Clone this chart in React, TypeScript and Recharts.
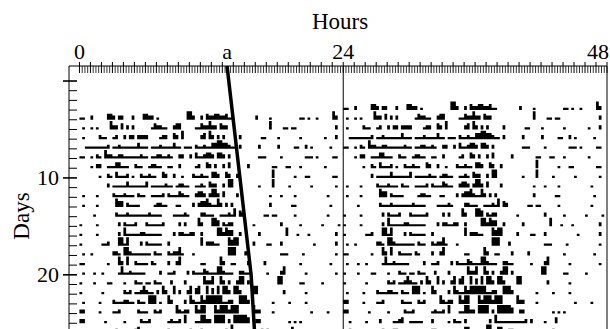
import React from 'react';
import {
  ComposedChart,
  Area,
  Line,
  XAxis,
  YAxis,
  ReferenceLine,
} from 'recharts';

// axis text
const HOURS_TITLE = 'Hours';
const DAYS_TITLE = 'Days';
const HOUR_LABELS = [0, 24, 48];
const DAY_LABELS = [10, 20];
const DAY_MAJOR = [0, 10, 20];
const ONSET_LABEL = 'a';

// the onset line (hour, day)
const ONSET_HOURS = [13.43, 15.62, 16.1];
const ONSET_DAYS = [-1.55, 20, 29.1];

// activity per day: [start hour, end hour, level 1..4]
const day04 = [[0,0.5,1],[0.9,1.25,2],[2.5,2.9,3],[2.9,3.25,2],[3.5,4,2],[4.85,5.1,2],[5.75,6.25,3],[6.25,6.75,2],[7,7.25,1],[9.8,10.3,4],[10.3,10.5,2],[10.9,11.2,2],[11.5,11.8,3],[11.8,12.25,2],[12.25,12.75,3],[12.75,13.25,2],[13.25,13.5,3],[13.5,14,1],[16,16.25,2],[17.25,17.5,1],[20,20.5,1],[20.75,21,1],[21.4,21.8,1],[23,23.3,4],[23.3,23.5,2]];
const day05 = [[0.25,0.6,1],[1,1.25,1],[1.5,1.75,1],[2.75,3.1,4],[3.1,3.5,2],[3.75,4.1,3],[4.25,4.6,2],[4.75,5.1,2],[6.4,6.75,1],[6.75,7.1,3],[7.1,7.5,2],[7.6,7.9,1],[8.5,8.8,2],[8.8,9.2,3],[10.6,11,1],[11,11.25,3],[11.25,11.75,2],[11.75,12.1,4],[12.1,12.5,2],[12.75,13.1,3],[13.1,13.5,2],[17.2,17.5,4],[18.5,19,1],[19.25,19.75,1],[23.3,23.6,2]];
const day06 = [[0.3,0.5,1],[1.8,2,2],[2.1,2.4,1],[3,3.25,1],[3.25,3.5,2],[4.1,4.35,2],[4.6,4.9,2],[5.2,5.5,2],[5.6,5.9,2],[6,6.25,2],[7.3,7.6,1],[7.6,7.9,2],[8.5,8.75,3],[8.75,9.1,2],[9.25,9.5,4],[10.9,11.2,2],[11.3,11.6,3],[11.75,12,4],[12,12.3,2],[12.5,12.75,2],[13,13.25,2],[14.5,14.75,2],[16.4,16.9,1],[18,18.25,1],[20,20.25,1],[22.2,22.5,1],[23.2,23.6,2]];
const day07 = [[0.6,2.5,1],[2.5,2.75,2],[3,3.5,1],[3.5,3.75,2],[3.75,5.25,1],[5.25,5.6,3],[5.6,6.2,1],[6.5,7.25,1],[7.25,7.5,2],[7.5,8.4,1],[8.4,8.75,3],[8.75,9.25,1],[9.5,10.25,1],[10.5,10.75,2],[10.75,11.25,1],[11.25,11.5,2],[11.5,12,1],[12,12.5,3],[12.5,13,4],[13,13.5,3],[13.5,13.75,2],[13.75,14.25,1],[14.5,14.75,2],[16.3,16.5,2],[17.9,18.2,2],[19.6,20.1,1],[20.5,20.75,2],[21,21.25,1],[22.7,23,1]];
const day08 = [[0,0.6,1],[0.9,1.2,1],[1.4,1.7,2],[1.7,2.1,1],[2.3,2.6,4],[2.6,2.9,2],[2.9,3.6,1],[3.6,3.9,2],[3.9,5.5,1],[5.5,5.75,2],[5.75,6.25,1],[6.6,7.1,1],[7.1,7.4,2],[7.4,8,1],[8,8.25,2],[8.25,8.6,1],[9.1,9.4,2],[10,10.25,2],[10.4,10.7,3],[10.7,11.2,1],[11.2,11.5,2],[11.6,12,3],[12,12.25,2],[12.6,12.9,3],[12.9,13.2,2],[13.5,13.75,2],[16.2,16.9,1],[18.3,18.5,1],[20.5,21.2,1],[21.4,21.6,1],[23,23.5,1]];
const day09 = [[1,1.25,1],[1.6,1.9,2],[2.6,3.2,1],[3.2,3.75,3],[3.75,4.5,1],[5,5.25,2],[5.25,5.75,1],[6.25,6.6,1],[6.6,6.9,2],[6.9,7.5,1],[8,8.4,1],[9,9.25,2],[10.4,10.8,1],[10.8,11.1,2],[11.4,11.7,3],[11.7,12,2],[12.2,12.5,2],[13,13.25,2],[13.5,13.75,3],[15.2,15.5,2],[17.6,18,1],[18.7,19.2,1],[20,20.25,1],[22.3,22.5,1]];
const day10 = [[1.8,2,1],[2.5,2.75,2],[2.75,3.1,1],[3.2,3.5,3],[3.5,4.25,1],[4.25,4.5,2],[4.75,5,1],[5.5,5.75,2],[5.75,6.25,1],[6.25,6.5,2],[6.5,7,1],[7.5,7.75,3],[7.75,8,2],[8.5,8.75,2],[9.25,9.6,1],[10.25,10.5,2],[10.5,11,1],[11,11.25,2],[11.25,11.75,1],[12,12.5,3],[12.5,12.75,2],[13.25,13.5,3],[13.5,13.75,2],[14.25,14.5,2],[17.4,17.7,4],[19.5,19.75,1],[20.6,20.9,1],[23,23.5,1]];
const day11 = [[2.5,2.75,2],[3,4.25,1],[4.25,4.6,3],[4.6,6,1],[6,6.3,3],[6.5,7.75,1],[7.75,8.1,2],[8.1,8.5,1],[8.75,9.1,1],[9.1,9.4,2],[9.6,10,1],[10.5,11,1],[11,11.3,2],[11.3,11.6,1],[11.75,12.1,3],[12.1,12.4,2],[13,13.25,2],[13.6,14,4],[16.2,16.6,1],[17.4,17.75,4],[19,19.25,1],[20.9,21.1,1],[23.2,23.5,1]];
const day12 = [[0.3,0.5,1],[1.5,1.75,1],[2.9,3.2,2],[3.2,4,1],[4,4.25,2],[4.25,5,1],[5.3,5.5,2],[5.5,6,1],[6.5,7.5,1],[7.5,7.75,2],[8.1,8.35,2],[8.35,9,1],[9,9.3,3],[9.3,9.6,2],[9.6,10,1],[10.5,10.75,2],[10.75,11.25,3],[11.25,11.5,2],[11.75,12,2],[12,12.5,4],[12.5,12.75,2],[13,13.25,3],[14.25,14.5,2],[17.3,17.6,1],[18.3,18.5,1],[19.5,19.75,1],[22.5,22.75,1]];
const day13 = [[0.25,0.5,1],[1.5,1.75,1],[3.2,3.6,4],[3.6,3.9,3],[4.3,4.6,2],[4.6,5.5,1],[6.7,7.1,1],[7.1,7.4,2],[7.4,8,1],[8.8,9.2,1],[10.3,10.5,2],[10.75,11,2],[11,11.4,3],[11.4,11.75,4],[11.75,12.1,2],[12.1,12.5,1],[12.5,12.8,4],[12.8,13.1,2],[13.25,13.5,2],[13.75,14,2],[17.3,17.6,2],[19.3,19.75,1],[22.7,23.1,1]];
const day14 = [[1.25,1.5,1],[3.25,3.5,2],[3.5,4.2,1],[4.2,4.5,2],[4.5,6.25,1],[6.25,6.5,2],[6.5,7.5,1],[8.4,9.5,1],[9.5,9.75,2],[9.75,10,1],[11,11.5,2],[11.5,12.2,1],[12.8,13.4,1],[13.4,13.6,2],[13.6,13.9,1],[13.9,14.25,4],[14.5,14.75,3],[14.75,15,2],[16.75,17.25,1],[17.5,17.9,1],[19.5,19.75,1],[22.6,22.8,1]];
const day15 = [[0,0.2,1],[1.5,1.75,1],[3.5,3.75,2],[4,4.25,2],[4.25,5,1],[5,5.25,2],[5.9,6.2,2],[6.2,7.5,1],[7.5,7.75,2],[9.1,9.35,2],[9.6,9.85,2],[10.8,11.1,4],[11.1,11.3,2],[12.1,12.5,4],[12.5,12.75,3],[12.9,13.1,2],[13.1,13.5,1],[13.6,13.9,2],[15.8,16,1],[18.2,18.5,2],[20,20.25,1],[22,22.2,1],[23.5,23.75,1]];
const day16 = [[0,0.25,1],[1.6,1.8,1],[3.6,3.85,2],[4,4.35,4],[4.35,5.6,1],[5.6,5.9,2],[5.9,7.4,1],[8.5,8.75,2],[9.1,9.4,2],[9.4,10.1,1],[10.1,10.4,2],[10.9,11.1,2],[12.5,12.9,4],[12.9,13.2,2],[13.2,13.5,4],[13.5,13.9,3],[14.4,14.6,2],[16.3,16.5,2],[18.8,19.1,4],[19.7,19.9,1],[20.8,21,1],[23.2,23.4,2]];
const day17 = [[0,0.25,1],[2.1,2.5,1],[2.5,2.75,2],[3.6,3.9,4],[3.9,4.3,1],[4.3,4.6,4],[5.5,5.75,2],[6.1,6.35,2],[6.35,7.5,1],[7.9,8.1,2],[10.9,11.25,4],[11.6,12.25,2],[12.25,12.75,1],[13.4,13.75,4],[13.75,14,3],[14,14.4,4],[15.8,16,2],[17.1,17.5,1],[18.3,18.5,2],[21.2,21.4,1],[23.3,23.5,2]];
const day18 = [[0.2,0.4,1],[1,1.25,1],[3.1,3.4,2],[3.4,3.7,1],[4.1,4.4,4],[4.4,4.7,2],[4.7,6.4,1],[6.8,7.1,2],[7.1,7.5,1],[8,8.25,2],[8.25,8.5,1],[8.6,8.9,2],[8.9,9.25,4],[9.25,9.6,1],[10.3,10.6,1],[13.6,14.25,4],[14.9,15.2,2],[18.3,18.9,1],[20.3,20.5,1],[23.3,23.5,1]];
const day19 = [[0,0.6,1],[2.5,2.75,1],[3.5,3.8,4],[3.8,4.1,2],[4.2,4.5,4],[4.9,5.1,2],[5.1,6.2,1],[6.5,6.75,2],[6.75,7,1],[7.9,8.1,2],[8.8,9,2],[9,9.3,4],[11,11.5,1],[12.8,13.1,4],[13.1,13.3,2],[13.8,14.3,1],[15.2,15.5,2],[16.7,17,2],[20.1,20.3,1],[22.8,23.1,1]];
const day20 = [[0.25,0.5,1],[1.2,1.4,1],[2,2.25,1],[3.4,3.75,1],[3.75,4.1,4],[4.1,4.5,1],[4.5,4.75,2],[4.75,6.1,1],[7.3,7.5,2],[8,8.5,1],[8.5,8.75,2],[9.75,10,2],[10.25,10.5,2],[10.5,11.25,1],[11.25,11.5,3],[11.5,11.75,2],[11.75,12.6,1],[12.6,13,4],[13,13.25,2],[13.25,14.1,1],[14.6,14.9,2],[14.9,15.5,1],[17,17.25,1],[18.3,18.5,2],[18.5,18.75,4],[20.5,20.75,1],[23.2,23.5,1]];
const day21 = [[0,0.25,1],[1.25,1.5,1],[2.6,2.9,1],[4,4.3,1],[5.1,5.35,2],[5.35,5.75,1],[6.1,6.6,1],[6.75,7,2],[7,7.5,1],[8.3,8.5,2],[9.4,9.6,2],[11.25,11.6,4],[11.6,11.9,2],[11.9,12.2,4],[12.8,13.1,4],[13.1,13.3,2],[13.5,13.75,2],[14.2,14.5,2],[14.5,15.1,4],[15.2,15.4,2],[18,18.4,4],[20.1,20.4,1],[22,22.25,1]];
const day22 = [[0.1,0.3,1],[2,2.2,1],[3.9,4.1,2],[4.1,4.5,1],[4.5,4.75,2],[4.9,5.4,1],[5.5,5.75,2],[5.75,6,4],[6,6.3,2],[6.3,6.75,1],[7,7.25,2],[7.5,7.75,4],[7.75,8,2],[8.5,8.75,4],[9,9.25,2],[9.7,9.9,2],[10,10.25,4],[10.4,10.6,3],[10.75,11.1,4],[11.4,11.75,4],[12,12.25,3],[12.5,12.75,4],[13,13.5,4],[13.5,13.75,2],[14.1,14.5,4],[14.5,14.75,2],[15.8,16.25,4],[18.4,18.6,2],[20.5,20.75,1]];
const day23 = [[0.25,0.5,1],[1.8,2.1,1],[3.1,3.3,2],[3.3,4.1,1],[4.1,4.4,2],[4.4,5,1],[5.3,5.5,2],[5.5,6,1],[6.2,6.5,4],[6.6,6.9,4],[7.2,7.6,1],[8,8.3,4],[8.3,8.6,2],[9.4,9.6,2],[9.9,10.1,4],[10.1,10.4,2],[10.6,11,1],[11,11.3,4],[11.3,11.5,2],[11.6,12.4,4],[12.6,13,4],[13,13.4,1],[13.6,13.9,2],[14.6,15.2,4],[15.2,15.4,2],[17.5,17.7,1],[19,19.2,1],[20.6,20.8,1]];
const day24 = [[0,0.4,2],[1.8,2.1,1],[3,3.4,1],[3.4,3.6,2],[5.3,5.6,2],[5.6,6.3,1],[6.75,7,2],[7,7.3,1],[7.3,7.6,2],[8.8,9.1,4],[9.1,9.3,2],[9.3,9.6,1],[9.6,9.9,2],[10.4,10.7,4],[10.7,11,2],[11,11.6,4],[12.2,12.5,4],[12.5,12.8,2],[12.8,13.5,4],[13.5,13.8,2],[13.8,14.6,4],[15.8,16.1,4],[16.1,16.4,2],[17.6,17.8,1],[21,21.2,1],[22.5,22.7,1]];
const day25 = [[0,0.4,2],[2.2,2.4,1],[4.1,4.3,1],[5.5,5.75,2],[5.75,6.25,1],[6.25,6.5,2],[7.9,8.3,1],[8.3,8.5,2],[8.5,8.9,1],[9,9.25,2],[9.5,9.75,4],[10.6,10.9,1],[10.9,11.6,4],[11.6,11.9,2],[12.3,13.25,4],[13.5,13.75,2],[14,15.25,4],[15.25,15.6,3],[15.9,16.1,2],[16.25,16.5,2],[18.9,19.1,1],[19.5,19.7,1],[20.1,20.3,1]];
const day26 = [[0.5,0.75,1],[2,2.25,1],[3.25,3.5,2],[4.5,5,1],[5,5.25,2],[5.3,5.6,3],[6.1,7.25,1],[8,8.25,2],[9.4,9.75,1],[9.9,10.1,2],[10.25,10.75,1],[11,11.25,2],[13.3,13.5,2],[13.75,14.1,4],[14.1,16.5,1],[16.5,16.75,2],[17,17.25,2],[18.2,18.6,1],[19.25,19.5,3]];
const day27 = [[0.5,0.75,2],[3.5,3.75,2],[4.5,5,2],[8,8.5,2],[11,11.5,3],[13,13.5,4],[14,14.5,3],[15,15.5,2],[19,19.25,2]];

const ACTIVITY_DAYS = [4, 5, 6, 7, 8, 9, 10, 11, 12, 13, 14, 15, 16, 17, 18, 19, 20, 21, 22, 23, 24, 25, 26, 27];
const ACTIVITY_RUNS = [day04, day05, day06, day07, day08, day09, day10, day11, day12, day13, day14, day15, day16, day17, day18, day19, day20, day21, day22, day23, day24, day25, day26, day27];

const BINS = 96; // quarter hours in a day
const LEVEL_HEIGHT = [0, 0.23, 0.43, 0.63, 0.88];

function toBins(runs: number[][]) {
  const bins = new Array(BINS).fill(0);
  for (const [s, e, lvl] of runs) {
    const a = Math.round(s * 4);
    const b = Math.max(Math.round(e * 4), a + 1);
    for (let k = a; k < b && k < BINS; k++) bins[k] = Math.max(bins[k], lvl);
  }
  return bins;
}

const binsByDay = new Map<number, number[]>();
ACTIVITY_DAYS.forEach((d, i) => binsByDay.set(d, toBins(ACTIVITY_RUNS[i])));

// double plot: row d shows day d, then day d+1
const ROWS: number[] = [];
for (let d = ACTIVITY_DAYS[0] - 1; d < ACTIVITY_DAYS[ACTIVITY_DAYS.length - 1]; d++) ROWS.push(d);

const tableData = Array.from({ length: 2 * BINS + 1 }, (_, k) => {
  const row: Record<string, number> = { h: k / 4 };
  for (const d of ROWS) {
    let lvl = 0;
    if (k < BINS) lvl = binsByDay.get(d)?.[k] ?? 0;
    else if (k < 2 * BINS) lvl = binsByDay.get(d + 1)?.[k - BINS] ?? 0;
    row[`r${d}`] = d - LEVEL_HEIGHT[lvl];
  }
  return row;
});

const onsetData = ONSET_HOURS.map((h, i) => ({ h, d: ONSET_DAYS[i] }));

const X_TICKS = [...Array.from({ length: 193 }, (_, i) => i / 4), ONSET_HOURS[0]];
const Y_TICKS = Array.from({ length: 30 }, (_, i) => i);

const FONT = '"Liberation Serif", "Times New Roman", serif';

function HourTick(props: any) {
  const { x, y, payload } = props;
  const v = payload.value;
  if (v === ONSET_HOURS[0]) {
    return (
      <text x={x} y={y - 7.5} textAnchor="middle" fontFamily={FONT} fontSize={22} fill="#000">
        {ONSET_LABEL}
      </text>
    );
  }
  const major = Number.isInteger(v);
  const showLabel = HOUR_LABELS.includes(v);
  const last = v === HOUR_LABELS[HOUR_LABELS.length - 1];
  return (
    <g>
      <line x1={x} x2={x} y1={major ? y - 4 : y} y2={y + 7} stroke="#000" strokeWidth={major ? 1 : 0.8} />
      {showLabel && (
        <text
          x={last ? x + 2 : x}
          y={y - 7.5}
          textAnchor={last ? 'end' : 'middle'}
          fontFamily={FONT}
          fontSize={22}
          fill="#000"
        >
          {v}
        </text>
      )}
    </g>
  );
}

function DayTick(props: any) {
  const { x, y, payload } = props;
  const v = payload.value;
  const major = DAY_MAJOR.includes(v);
  return (
    <g>
      <line x1={major ? x - 6 : x} x2={x + 8} y1={y} y2={y} stroke="#000" strokeWidth={major ? 1.6 : 1} />
      {DAY_LABELS.includes(v) && (
        <text x={x - 10} y={y + 7.5} textAnchor="end" fontFamily={FONT} fontSize={22} fill="#000">
          {v}
        </text>
      )}
    </g>
  );
}

export default function App() {
  return (
    <div
      style={{
        position: 'fixed',
        left: 0,
        top: 0,
        width: 610,
        height: 329,
        overflow: 'hidden',
        background: '#fff',
      }}
    >
      <ComposedChart
        width={610}
        height={368}
        data={tableData}
        margin={{ top: 0, right: 3, bottom: 5, left: 0 }}
      >
        <XAxis
          type="number"
          dataKey="h"
          orientation="top"
          domain={[-0.95, 48]}
          allowDataOverflow
          ticks={X_TICKS}
          interval={0}
          tick={(p: any) => <HourTick {...p} />}
          tickLine={false}
          tickSize={0}
          tickMargin={0}
          height={66}
          axisLine={{ stroke: '#000' }}
        />
        <YAxis
          type="number"
          domain={[-1.55, 29.1]}
          reversed
          allowDataOverflow
          ticks={Y_TICKS}
          interval={0}
          tick={(p: any) => <DayTick {...p} />}
          tickLine={false}
          tickSize={0}
          tickMargin={0}
          width={69}
          axisLine={{ stroke: '#000' }}
        />
        <ReferenceLine x={24} stroke="#000" strokeWidth={1} />
        <ReferenceLine x={48} stroke="#000" strokeWidth={1} />
        {ROWS.map((d) => (
          <Area
            key={d}
            type="stepAfter"
            dataKey={`r${d}`}
            baseValue={d}
            stroke="none"
            fill="#000"
            fillOpacity={1}
            dot={false}
            activeDot={false}
            isAnimationActive={false}
          />
        ))}
        <Line
          data={onsetData}
          dataKey="d"
          type="linear"
          stroke="#000"
          strokeWidth={3.5}
          dot={false}
          activeDot={false}
          isAnimationActive={false}
        />
      </ComposedChart>
      <svg
        width={610}
        height={329}
        style={{ position: 'absolute', left: 0, top: 0, pointerEvents: 'none' }}
      >
        <text x={340} y={29} textAnchor="middle" fontFamily={FONT} fontSize={23} fill="#000">
          {HOURS_TITLE}
        </text>
        <text
          x={29}
          y={216}
          transform="rotate(-90 29 216)"
          textAnchor="middle"
          fontFamily={FONT}
          fontSize={23}
          fill="#000"
        >
          {DAYS_TITLE}
        </text>
      </svg>
    </div>
  );
}
